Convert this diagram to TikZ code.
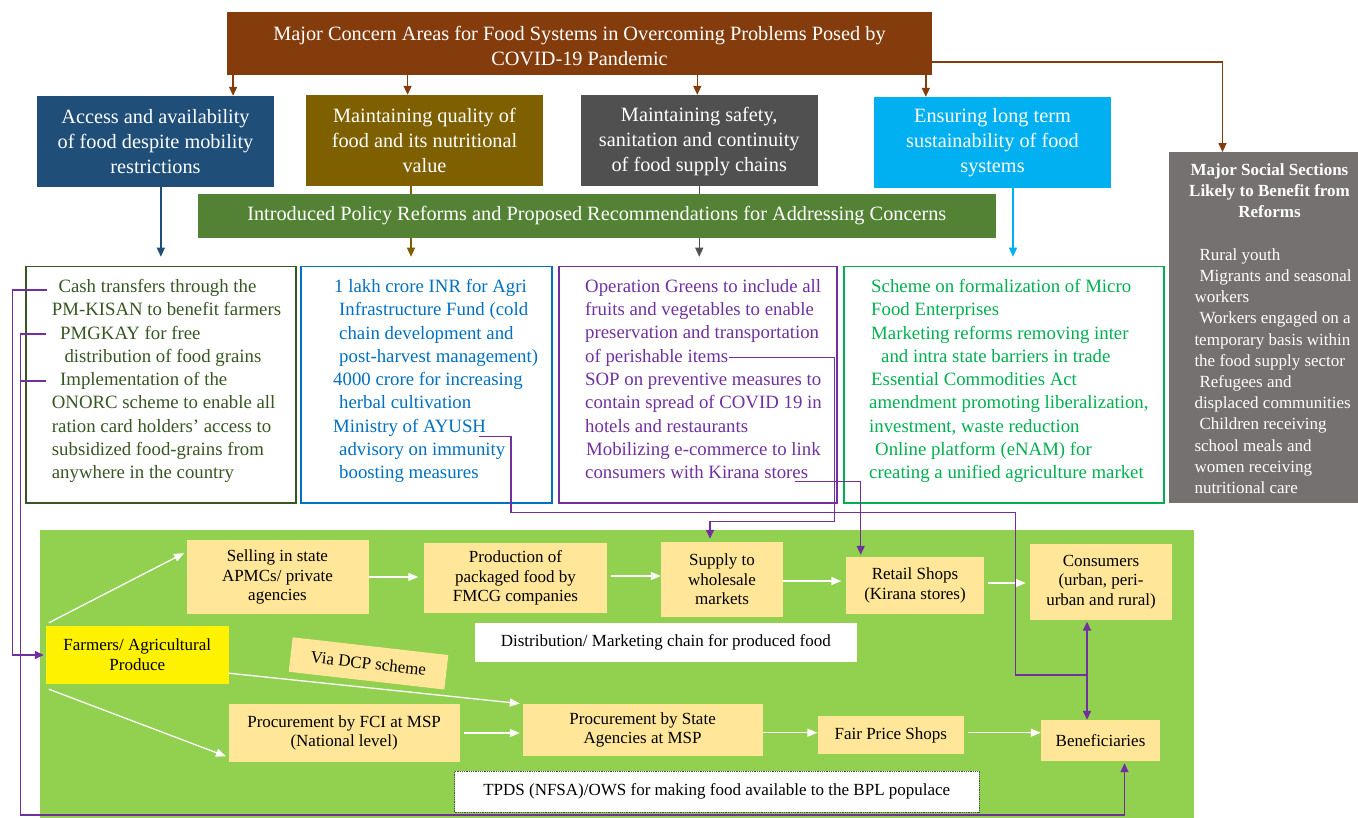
\documentclass[tikz,border=0pt]{standalone}
\usepackage{fontspec}
\setmainfont{Liberation Serif}
\usetikzlibrary{arrows.meta}

\definecolor{titlebrown}{HTML}{843C0C}
\definecolor{accessblue}{HTML}{1F4E79}
\definecolor{qualityolive}{HTML}{7F6000}
\definecolor{safetygrey}{HTML}{505050}
\definecolor{sustaincyan}{HTML}{00B0F0}
\definecolor{reformgreen}{HTML}{548235}
\definecolor{pgreen}{HTML}{375623}
\definecolor{pblue}{HTML}{0070C0}
\definecolor{ppurple}{HTML}{7030A0}
\definecolor{pmint}{HTML}{00B050}
\definecolor{socialgrey}{HTML}{767171}
\definecolor{chainyellow}{HTML}{FFE699}
\definecolor{fieldgreen}{HTML}{92D050}

\begin{document}
\begin{tikzpicture}[x=1pt, y=-1pt,
	concernbox/.style={fill=#1, text=white, align=center, inner sep=0pt, font=\fontsize{20.3}{25}\selectfont},
	policybox/.style={draw=#1, line width=1.6pt, inner sep=0pt, minimum height=236.5pt},
	policytext/.style={text=#1, align=left, anchor=north west, inner sep=0pt, font=\fontsize{18.8}{23.3}\selectfont},
	chainbox/.style={fill=#1, align=center, inner sep=0pt, font=\fontsize{17}{19.7}\selectfont},
	downarrow/.style={draw=#1, line width=1.4pt, -{Triangle[length=9pt,width=8pt]}},
	flowarrow/.style={draw=white, line width=1.3pt, -{Triangle[length=10pt,width=8pt]}},
	purpleline/.style={draw=ppurple, line width=1.5pt},
	purplearrow/.style={purpleline, -{Triangle[length=9pt,width=8pt]}},
	]
	\useasboundingbox (0,0) rectangle (1358,818);

	% concern areas
	\node[concernbox=titlebrown, minimum width=705pt, minimum height=62.7pt] (T) at (579.5,43.35) {\rule{0pt}{19pt}Major Concern Areas for Food Systems in Overcoming Problems Posed by\\COVID-19 Pandemic};
	\node[concernbox=accessblue, minimum width=237pt, minimum height=90.7pt] (A) at (155.5,141.35) {Access and availability\\of food despite mobility\\restrictions};
	\node[concernbox=qualityolive, minimum width=237pt, minimum height=90.7pt] (B) at (424.5,140.35) {Maintaining quality of\\food and its nutritional\\value};
	\node[concernbox=safetygrey, minimum width=236.5pt, minimum height=90.7pt] (C) at (699.25,140.35) {\rule{0pt}{16pt}Maintaining safety,\\sanitation and continuity\\of food supply chains};
	\node[concernbox=sustaincyan, minimum width=237pt, minimum height=90.7pt] (D) at (992.5,142.35) {Ensuring long term\\sustainability of food\\systems};

	% policy boxes
	\node[policybox=pgreen, minimum width=269.7pt] (P1) at (160.85,384.75) {};
	\node[policybox=pblue, minimum width=250.8pt] (P2) at (426.4,384.75) {};
	\node[policybox=ppurple, minimum width=278.3pt] (P3) at (697.85,384.75) {};
	\node[policybox=pmint, minimum width=320pt] (P4) at (1004,384.75) {};
	\node[fill=socialgrey, inner sep=0pt, minimum width=189pt, minimum height=350.7pt] (G) at (1263.5,327.65) {};

	\coordinate (t1) at ([xshift=6.3pt]T.south west);
	\coordinate (t2) at ([xshift=-171.9pt]T.south);
	\coordinate (t3) at ([xshift=117.8pt]T.south);
	\coordinate (t4) at ([xshift=-6.4pt]T.south east);
	\coordinate (g1) at ([xshift=-41pt]G.north);
	\draw[downarrow=titlebrown] (t1) -- (t1 |- A.north);
	\draw[downarrow=titlebrown] (t2) -- (t2 |- B.north);
	\draw[downarrow=titlebrown] (t3) -- (t3 |- C.north);
	\draw[downarrow=titlebrown] (t4) -- (t4 |- D.north);
	\draw[downarrow=titlebrown] ([yshift=13pt]T.south east) -| (g1);

	\coordinate (b1) at ([xshift=-13.5pt]B.south);
	\coordinate (d1) at ([xshift=20.5pt]D.south);
	\draw[downarrow=accessblue, shorten >=9pt] (A.south -| P1.north) -- (P1.north);
	\draw[downarrow=qualityolive, shorten >=9pt] (b1) -- (b1 |- P2.north);
	\draw[downarrow=safetygrey, shorten >=9pt] (C.south) -- (C.south |- P3.north);
	\draw[downarrow=sustaincyan, shorten >=9pt] (d1) -- (d1 |- P4.north);

	\node[concernbox=reformgreen, minimum width=797.6pt, minimum height=43.7pt] (R) at (596.8,215.85) {Introduced Policy Reforms and Proposed Recommendations for Addressing Concerns};

	\node[policytext=pgreen] (T1) at (51.7,279) {\hspace*{6.6pt}Cash transfers through the\\PM-KISAN to benefit farmers\\\hspace*{8.3pt}PMGKAY for free\\\hspace*{12.6pt}distribution of food grains\\\hspace*{8.3pt}Implementation of the\\ONORC scheme to enable all\\ration card holders’ access to\\subsidized food-grains from\\anywhere in the country};
	\node[policytext=pblue] (T2) at (333,279) {\hspace*{1pt}1 lakh crore INR for Agri\\\hspace*{6pt}Infrastructure Fund (cold\\\hspace*{6pt}chain development and\\\hspace*{6pt}post-harvest management)\\4000 crore for increasing\\\hspace*{6pt}herbal cultivation\\Ministry of AYUSH\\\hspace*{6pt}advisory on immunity\\\hspace*{6pt}boosting measures};
	\node[policytext=ppurple] (T3) at (585,279) {Operation Greens to include all\\fruits and vegetables to enable\\preservation and transportation\\of perishable items\\SOP on preventive measures to\\contain spread of COVID 19 in\\hotels and restaurants\\\hspace*{1pt}Mobilizing e-commerce to link\\consumers with Kirana stores};
	\node[policytext=pmint] (T4) at (869,279) {\hspace*{2pt}Scheme on formalization of Micro\\\hspace*{2pt}Food Enterprises\\\hspace*{2pt}Marketing reforms removing inter\\\hspace*{12pt}and intra state barriers in trade\\\hspace*{2pt}Essential Commodities Act\\amendment promoting liberalization,\\investment, waste reduction\\\hspace*{6pt}Online platform (eNAM) for\\creating a unified agriculture market};

	% social sections
	\node[anchor=north, text=white, align=center, inner sep=0pt, font=\fontsize{17}{21}\selectfont\bfseries] (GH) at ([shift={(6pt,-11.7pt)}]G.north) {Major Social Sections\\Likely to Benefit from\\Reforms};
	\node[policytext=white, font=\fontsize{17}{21.2}\selectfont] (GL) at (1194.3,248.4) {\hspace*{5pt}Rural youth\\\hspace*{5pt}Migrants and seasonal\\workers\\\hspace*{5pt}Workers engaged on a\\temporary basis within\\the food supply sector\\\hspace*{5pt}Refugees and\\displaced communities\\\hspace*{5pt}Children receiving\\school meals and\\women receiving\\nutritional care};

	% food chain
	\fill[fieldgreen] (40,530) rectangle (1194,818);
	\node[chainbox=chainyellow, minimum width=182pt, minimum height=74pt] (Sell) at (277.5,577) {Selling in state\\APMCs/ private\\agencies};
	\node[chainbox=chainyellow, minimum width=183pt, minimum height=70pt] (Prod) at (515.5,578) {Production of\\packaged food by\\FMCG companies};
	\node[chainbox=chainyellow, minimum width=122pt, minimum height=74.7pt] (Supply) at (722,579.3) {Supply to\\wholesale\\markets};
	\node[chainbox=chainyellow, minimum width=138pt, minimum height=57pt] (Retail) at (915,585.5) {Retail Shops\\(Kirana stores)};
	\node[chainbox=chainyellow, minimum width=142pt, minimum height=76pt] (Cons) at (1101,582) {Consumers\\(urban, peri-\\urban and rural)};
	\node[chainbox=yellow, minimum width=182.5pt, minimum height=58pt] (Farm) at (137.25,655) {Farmers/ Agricultural\\Produce};
	\node[chainbox=white, minimum width=381.6pt, minimum height=39pt] (Dist) at (665.8,642.5) {Distribution/ Marketing chain for produced food};
	\node[chainbox=chainyellow, minimum width=156.6pt, minimum height=34.7pt, rotate=-6.5] (DCP) at (368.5,663.4) {Via DCP scheme};
	\node[chainbox=chainyellow, minimum width=231.2pt, minimum height=58pt] (FCI) at (344.1,733) {Procurement by FCI at MSP\\(National level)};
	\node[chainbox=chainyellow, minimum width=240.2pt, minimum height=52pt] (State) at (642.6,730) {Procurement by State\\Agencies at MSP};
	\node[chainbox=chainyellow, minimum width=146.4pt, minimum height=38pt] (FPS) at (890.8,735) {Fair Price Shops};
	\node[chainbox=chainyellow, minimum width=119pt, minimum height=41pt] (Benef) at (1100.5,740.5) {Beneficiaries};
	\node[chainbox=white, draw=black!70, densely dotted, line width=0.8pt, minimum width=524.5pt, minimum height=41pt] (TPDS) at (716.75,791.5) {TPDS (NFSA)/OWS for making food available to the BPL populace};

	\draw[flowarrow, shorten >=2.5pt] ([shift={(3pt,3pt)}]Farm.north west) -- ([yshift=25pt]Sell.west);
	\draw[flowarrow, shorten >=2.5pt] ([yshift=11pt]Farm.south east) -- (State.north west);
	\draw[flowarrow, shorten >=2.5pt] ([shift={(3pt,-5pt)}]Farm.south west) -- ([yshift=5pt]FCI.south west);
	\draw[flowarrow, shorten >=5.5pt] (Sell.east) -- (Sell.east -| Prod.west);
	\draw[flowarrow, shorten <=3.5pt] ([yshift=2pt]Prod.east) -- ([yshift=2pt]Prod.east -| Supply.west);
	\draw[flowarrow, shorten >=4.5pt] ([yshift=-1.7pt]Supply.east) -- ([yshift=-1.7pt]Supply.east -| Retail.west);
	\draw[flowarrow, shorten <=4pt, shorten >=4pt] ([yshift=2.5pt]Retail.east) -- ([yshift=2.5pt]Retail.east -| Cons.west);
	\draw[flowarrow, shorten <=4.3pt, shorten >=2.5pt] (FCI.east) -- (FCI.east -| State.west);
	\draw[flowarrow] ([yshift=-2.7pt]State.east) -- ([yshift=-2.7pt]State.east -| FPS.west);
	\draw[flowarrow, shorten <=4pt] ([yshift=2.3pt]FPS.east) -- ([yshift=2.3pt]FPS.east -| Benef.west);

	% purple links from the reforms
	\coordinate (cash) at (46.5,290);
	\coordinate (pmg) at (45.7,334);
	\coordinate (impl) at (45.7,381);
	\coordinate (ayush) at (478.6,436.5);
	\coordinate (perish) at (728.7,357.5);
	\coordinate (kirana) at (795,481.7);
	\coordinate (cb) at ([xshift=-14pt]Cons.south);
	\coordinate (jn) at ([yshift=-55pt]cb);

	\draw[purplearrow, shorten >=2pt] (cash) -- ++(-34,0) |- (Farm.west);
	\draw[purplearrow, shorten >=2pt] (pmg) -- ++(-25,0) -- ++(0,481) -| ([xshift=24pt]Benef.south);
	\draw[purpleline] (impl) -- ++(-25,0);
	\draw[purplearrow, shorten >=3pt] (perish) -- ++(105.6,0) -- ++(0,164.2) -| ([xshift=-12pt]Supply.north);
	\draw[purplearrow, shorten >=2pt] (kirana) -| ([xshift=-54.3pt]Retail.north);
	\draw[purpleline] (ayush) -- ++(32.5,0) -- ++(0,76.2) -- ++(504.4,0) |- (jn);
	\draw[purpleline, {Triangle[length=9pt,width=8pt]}-{Triangle[length=9pt,width=8pt]}, shorten <=1.5pt] (cb) -- (cb |- Benef.north);

\end{tikzpicture}
\end{document}
